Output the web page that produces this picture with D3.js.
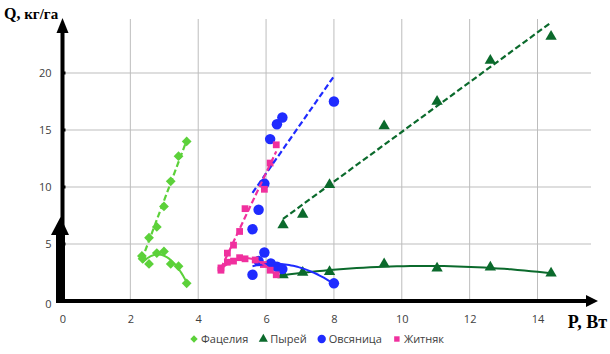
<!DOCTYPE html>
<html>
<head>
<meta charset="utf-8">
<script src="https://cdn.jsdelivr.net/npm/d3@7"></script>
<style>
  body { margin: 0; background: #fff; }
  svg { display: block; }
</style>
</head>
<body>
<svg id="chart" width="610" height="354"></svg>
<script>
// tick values
const xTicks = [0, 2, 4, 6, 8, 10, 12, 14];
const yTicks = [0, 5, 10, 15, 20];

// Фацелия
const phacHighP = [2.34, 2.55, 2.78, 2.99, 3.19, 3.42, 3.66];
const phacHighQ = [3.95, 5.55, 6.5, 8.3, 10.5, 12.7, 14.0];
const phacLowP = [2.36, 2.55, 2.78, 2.99, 3.19, 3.42, 3.66];
const phacLowQ = [3.7, 3.25, 4.2, 4.35, 3.25, 3.05, 1.55];

// Пырей
const wheatHighP = [6.5, 7.08, 7.87, 9.48, 11.04, 12.61, 14.4];
const wheatHighQ = [6.67, 7.6, 10.2, 15.35, 17.5, 21.1, 23.2];
const wheatLowP = [6.5, 7.08, 7.87, 9.48, 11.04, 12.61, 14.4];
const wheatLowQ = [2.28, 2.5, 2.57, 3.25, 2.87, 2.96, 2.43];

// Овсяница
const fescHighP = [5.6, 5.78, 5.95, 6.12, 6.32, 6.48, 8.0];
const fescHighQ = [6.3, 8.0, 10.3, 14.2, 15.5, 16.1, 17.5];
const fescLowP = [5.6, 5.78, 5.95, 6.14, 6.32, 6.48, 8.0];
const fescLowQ = [2.3, 3.5, 4.25, 3.3, 3.0, 2.8, 1.55];

// Житняк
const wrHighP = [4.67, 4.86, 5.04, 5.22, 5.38, 5.95, 6.12, 6.3];
const wrHighQ = [2.9, 4.2, 4.9, 6.1, 8.1, 9.8, 12.1, 13.7];
const wrLowP = [4.67, 4.86, 5.04, 5.22, 5.38, 5.68, 5.92, 6.12, 6.3];
const wrLowQ = [2.7, 3.4, 3.5, 3.8, 3.7, 3.6, 3.2, 2.7, 2.3];

const seriesNames = ["Фацелия", "Пырей", "Овсяница", "Житняк"];
const seriesColors = ["#5cd13a", "#0b6a2c", "#1f2bff", "#f0309e"];

const series = [
  { name: seriesNames[0], color: seriesColors[0], shape: "diamond",
    high: [phacHighP, phacHighQ], low: [phacLowP, phacLowQ] },
  { name: seriesNames[1], color: seriesColors[1], shape: "triangle",
    high: [wheatHighP, wheatHighQ], low: [wheatLowP, wheatLowQ] },
  { name: seriesNames[2], color: seriesColors[2], shape: "circle",
    high: [fescHighP, fescHighQ], low: [fescLowP, fescLowQ] },
  { name: seriesNames[3], color: seriesColors[3], shape: "square",
    high: [wrHighP, wrHighQ], low: [wrLowP, wrLowQ] }
];

// least squares polynomial fit
function polyFit(xs, ys, deg) {
  const n = deg + 1;
  const A = [], b = [];
  for (let i = 0; i < n; i++) {
    A.push([]);
    for (let j = 0; j < n; j++) A[i].push(d3.sum(xs, x => Math.pow(x, i + j)));
    b.push(d3.sum(xs, (x, k) => ys[k] * Math.pow(x, i)));
  }
  for (let c = 0; c < n; c++) {
    let p = c;
    for (let r = c + 1; r < n; r++) if (Math.abs(A[r][c]) > Math.abs(A[p][c])) p = r;
    [A[c], A[p]] = [A[p], A[c]]; [b[c], b[p]] = [b[p], b[c]];
    for (let r = c + 1; r < n; r++) {
      const f = A[r][c] / A[c][c];
      for (let k = c; k < n; k++) A[r][k] -= f * A[c][k];
      b[r] -= f * b[c];
    }
  }
  const coef = new Array(n).fill(0);
  for (let r = n - 1; r >= 0; r--) {
    let s = b[r];
    for (let k = r + 1; k < n; k++) s -= A[r][k] * coef[k];
    coef[r] = s / A[r][r];
  }
  return x => d3.sum(coef, (c, i) => c * Math.pow(x, i));
}

const svg = d3.select("#chart");
const x = d3.scaleLinear().domain([0, 14]).range([62.5, 537.5]);
const y = d3.scaleLinear().domain([0, 20]).range([301, 73]);
const plotRight = 591, plotTop = 19;

// grid
const grid = svg.append("g");
grid.selectAll("line.v").data(xTicks.filter(d => d > 0)).enter().append("line")
  .attr("x1", d => x(d)).attr("x2", d => x(d))
  .attr("y1", plotTop).attr("y2", y(0))
  .attr("stroke", "#bdbdbd").attr("stroke-width", 1);
grid.selectAll("line.h").data(yTicks.filter(d => d > 0)).enter().append("line")
  .attr("x1", x(0)).attr("x2", plotRight)
  .attr("y1", d => y(d)).attr("y2", d => y(d))
  .attr("stroke", "#bdbdbd").attr("stroke-width", 1);

// tick labels through d3 axes
const xAxis = svg.append("g").attr("transform", `translate(0,${y(0)})`)
  .call(d3.axisBottom(x).tickValues(xTicks).tickSize(0).tickPadding(14));
const yAxis = svg.append("g").attr("transform", `translate(${x(0)},0)`)
  .call(d3.axisLeft(y).tickValues(yTicks).tickSize(0).tickPadding(11));
[xAxis, yAxis].forEach(a => {
  a.select(".domain").remove();
  a.selectAll("text").attr("fill", "#404040")
    .style("font-family", "'Open Sans', 'DejaVu Sans', sans-serif").style("font-size", "11px");
});
yAxis.selectAll(".tick").filter(d => d === 0).select("text").attr("dy", "0.6em");

// markers
function symbolFor(shape) {
  if (shape === "diamond") return d3.symbol().type(d3.symbolSquare).size(48)();
  if (shape === "triangle") return d3.symbol().type(d3.symbolTriangle).size(56)();
  if (shape === "circle") return d3.symbol().type(d3.symbolCircle).size(86)();
  return d3.symbol().type(d3.symbolSquare).size(46)();
}
function pts(pair) { return pair[0].map((p, i) => [p, pair[1][i]]); }

series.forEach(s => {
  const g = svg.append("g");
  [s.high, s.low].forEach(pair => {
    g.selectAll(null).data(pts(pair)).enter().append("path")
      .attr("d", symbolFor(s.shape))
      .attr("transform", d => `translate(${x(d[0])},${y(d[1])})` + (s.shape === "diamond" ? " rotate(45)" : ""))
      .attr("fill", s.color);
  });
});

// trend lines: linear (dashed) for upper branch, quadratic (solid) for lower branch
const line = d3.line().x(d => x(d[0])).y(d => y(d[1]));
series.forEach(s => {
  const fh = polyFit(s.high[0], s.high[1], 1);
  const hx = d3.extent(s.high[0]);
  svg.append("path")
    .attr("d", line(hx.map(v => [v, fh(v)])))
    .attr("fill", "none").attr("stroke", s.color).attr("stroke-width", 2.2)
    .attr("stroke-dasharray", "6,3");
  const fl = polyFit(s.low[0], s.low[1], 2);
  const lx = d3.extent(s.low[0]);
  const samples = d3.range(0, 41).map(i => lx[0] + (lx[1] - lx[0]) * i / 40);
  svg.append("path")
    .attr("d", line(samples.map(v => [v, fl(v)])))
    .attr("fill", "none").attr("stroke", s.color).attr("stroke-width", 2);
});

// axes with arrows
const axes = svg.append("g");
axes.append("line").attr("x1", x(0)).attr("x2", 590).attr("y1", y(0)).attr("y2", y(0))
  .attr("stroke", "#000").attr("stroke-width", 4);
axes.append("path").attr("d", `M598,${y(0)} L586,${y(0) - 6} L586,${y(0) + 6} Z`).attr("fill", "#000");
axes.append("line").attr("x1", x(0)).attr("x2", x(0)).attr("y1", y(0) + 2).attr("y2", 30)
  .attr("stroke", "#000").attr("stroke-width", 4);
axes.append("path").attr("d", `M${x(0)},18 L${x(0) - 6},33 L${x(0) + 6},33 Z`).attr("fill", "#000");
// short heavy arrow at the bottom of the Q axis
axes.append("rect").attr("x", 56).attr("y", 232).attr("width", 9).attr("height", y(0) - 230).attr("fill", "#000");
axes.append("path").attr("d", `M60.5,217 L51,235 L69,235 Z`).attr("fill", "#000");

// tick squares
axes.selectAll("rect.xt").data(xTicks.filter(d => d > 0)).enter().append("rect")
  .attr("x", d => x(d) - 2).attr("y", y(0) - 2).attr("width", 4).attr("height", 4).attr("fill", "#000");
axes.selectAll("rect.yt").data(yTicks.filter(d => d > 0)).enter().append("rect")
  .attr("x", x(0)).attr("y", d => y(d) - 1.5).attr("width", 3).attr("height", 3).attr("fill", "#000");

// axis titles
const qt = svg.append("text").attr("x", 4).attr("y", 19)
  .style("font-family", "'Liberation Serif', 'DejaVu Serif', serif").style("font-weight", "bold").style("font-size", "16px");
qt.append("tspan").text("Q,");
qt.append("tspan").text(" кг/га").style("font-size", "15px");
svg.append("text").attr("x", 607).attr("y", 328).attr("text-anchor", "end")
  .style("font-family", "'Liberation Serif', 'DejaVu Serif', serif").style("font-weight", "bold").style("font-size", "18px")
  .text("P, Вт");

// legend
const legend = svg.append("g").attr("transform", "translate(0,339)");
let lx = 190;
series.forEach(s => {
  const item = legend.append("g").attr("transform", `translate(${lx},0)`);
  item.append("path").attr("d", symbolFor(s.shape))
    .attr("transform", s.shape === "diamond" ? "translate(4,0) rotate(45) scale(0.75)" : "translate(4,0) scale(0.8)")
    .attr("fill", s.color);
  const t = item.append("text").attr("x", 11).attr("y", 4).attr("fill", "#404040")
    .style("font-family", "'Open Sans', 'DejaVu Sans', sans-serif").style("font-size", "11px").text(s.name);
  lx += 11 + t.node().getComputedTextLength() + 11;
});
</script>
</body>
</html>
